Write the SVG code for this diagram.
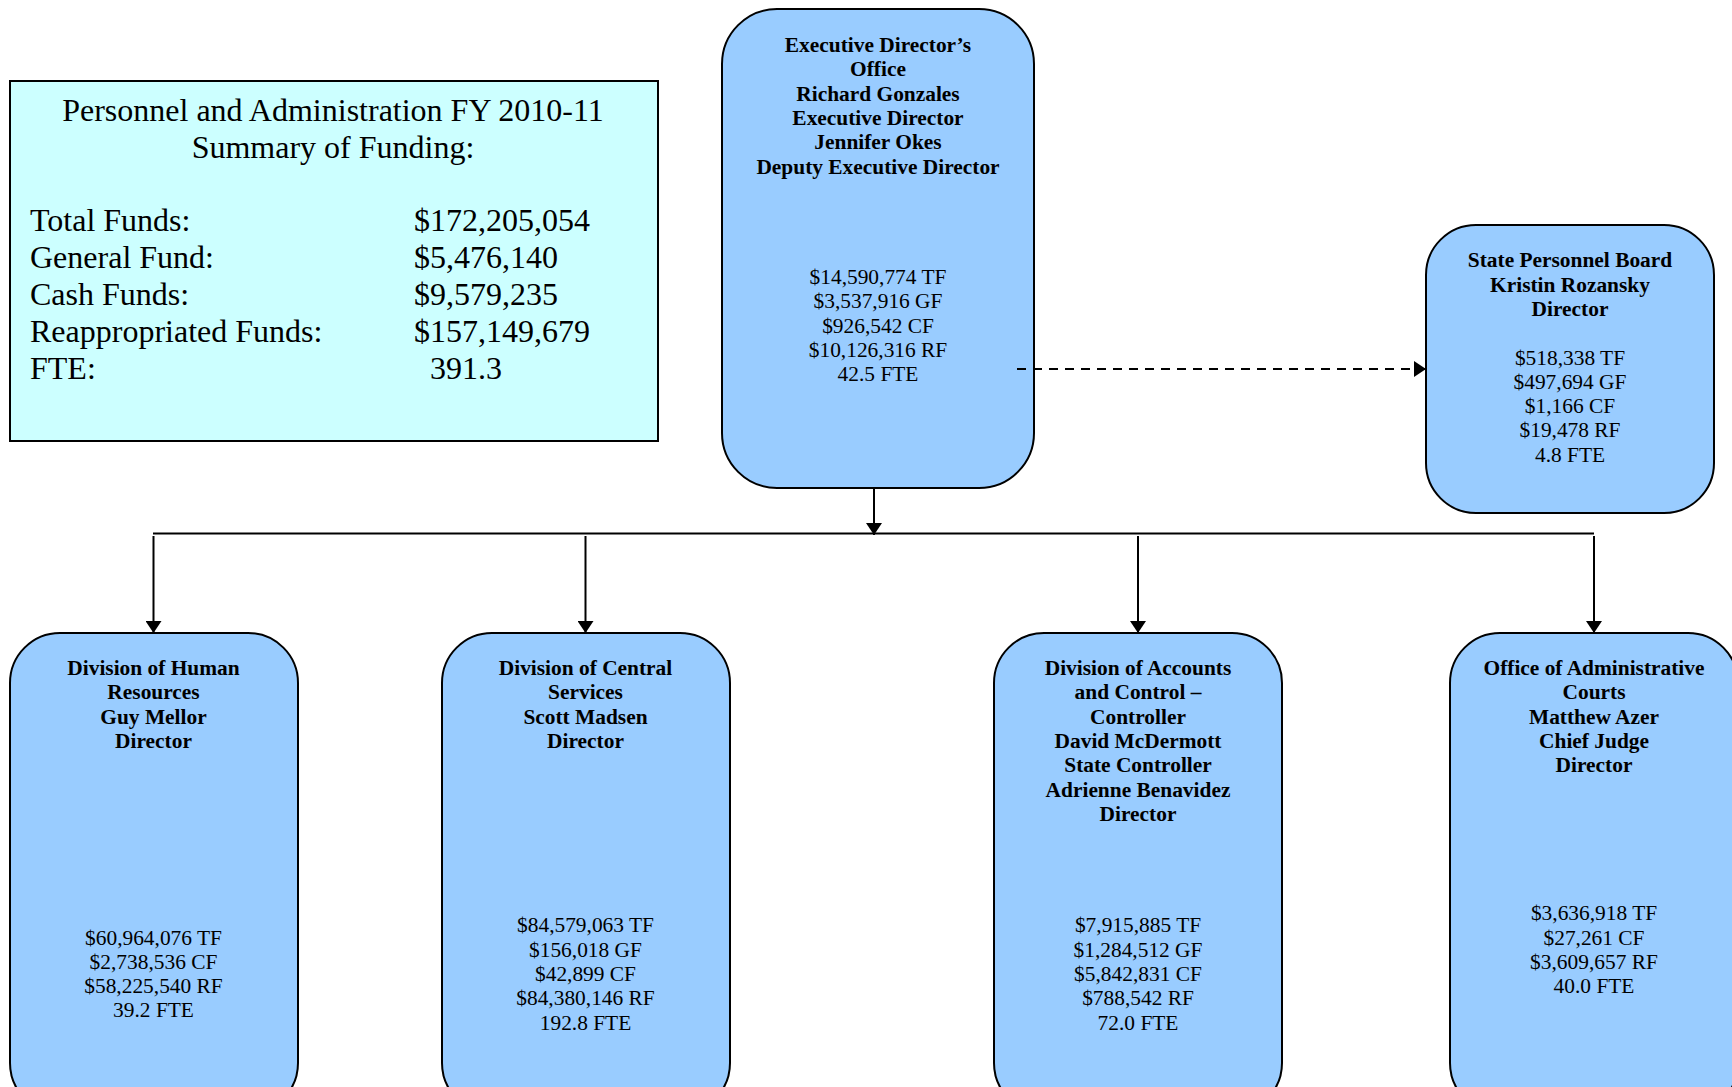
<svg xmlns="http://www.w3.org/2000/svg" width="1732" height="1087" viewBox="0 0 1732 1087">
<defs>
<marker id="ahs" viewBox="0 0 12 16" refX="12" refY="8" markerWidth="12" markerHeight="16" markerUnits="userSpaceOnUse" orient="auto">
<path d="M0,0 L12,8 L0,16 Z" fill="#000"/>
</marker>
</defs>
<style>
.box{fill:#99CCFF;stroke:#000;stroke-width:2}
.sum{fill:#CCFFFF;stroke:#000;stroke-width:2}
.b{font-family:"Liberation Serif","Times New Roman",serif;font-weight:bold;font-size:21.4px;text-anchor:middle;fill:#000}
.r{font-family:"Liberation Serif","Times New Roman",serif;font-size:21.4px;text-anchor:middle;fill:#000}
.s{font-family:"Liberation Serif","Times New Roman",serif;font-size:32px;fill:#000}
.line{stroke:#000;stroke-width:2;fill:none}
</style>
<g id="summary">
<rect class="sum" x="10" y="81" width="648" height="360"/>
<text class="s" x="333" y="121" text-anchor="middle">Personnel and Administration FY 2010-11</text>
<text class="s" x="333" y="158" text-anchor="middle">Summary of Funding:</text>
<text class="s" x="30" y="231">Total Funds:</text>
<text class="s" x="30" y="268">General Fund:</text>
<text class="s" x="30" y="305">Cash Funds:</text>
<text class="s" x="30" y="342">Reappropriated Funds:</text>
<text class="s" x="30" y="379">FTE:</text>
<text class="s" x="414" y="231">$172,205,054</text>
<text class="s" x="414" y="268">$5,476,140</text>
<text class="s" x="414" y="305">$9,579,235</text>
<text class="s" x="414" y="342">$157,149,679</text>
<text class="s" x="430" y="379">391.3</text>
</g>
<g id="exec">
<rect class="box" x="722" y="9" width="312" height="479" rx="55" ry="55"/>
<text class="b" x="878" y="52">Executive Director’s</text>
<text class="b" x="878" y="76">Office</text>
<text class="b" x="878" y="100.5">Richard Gonzales</text>
<text class="b" x="878" y="125">Executive Director</text>
<text class="b" x="878" y="149">Jennifer Okes</text>
<text class="b" x="878" y="173.5">Deputy Executive Director</text>
<text class="r" x="878" y="284">$14,590,774 TF</text>
<text class="r" x="878" y="308">$3,537,916 GF</text>
<text class="r" x="878" y="332.5">$926,542 CF</text>
<text class="r" x="878" y="357">$10,126,316 RF</text>
<text class="r" x="878" y="381">42.5 FTE</text>
</g>
<g id="spb">
<rect class="box" x="1426" y="225" width="288" height="288" rx="50" ry="50"/>
<text class="b" x="1570" y="267">State Personnel Board</text>
<text class="b" x="1570" y="291.5">Kristin Rozansky</text>
<text class="b" x="1570" y="316">Director</text>
<text class="r" x="1570" y="364.5">$518,338 TF</text>
<text class="r" x="1570" y="389">$497,694 GF</text>
<text class="r" x="1570" y="413">$1,166 CF</text>
<text class="r" x="1570" y="437">$19,478 RF</text>
<text class="r" x="1570" y="462">4.8 FTE</text>
</g>
<g id="hr">
<rect class="box" x="10" y="633" width="288" height="480" rx="50" ry="50"/>
<text class="b" x="153.5" y="675">Division of Human</text>
<text class="b" x="153.5" y="699">Resources</text>
<text class="b" x="153.5" y="723.5">Guy Mellor</text>
<text class="b" x="153.5" y="748">Director</text>
<text class="r" x="153.5" y="944.5">$60,964,076 TF</text>
<text class="r" x="153.5" y="969">$2,738,536 CF</text>
<text class="r" x="153.5" y="993">$58,225,540 RF</text>
<text class="r" x="153.5" y="1017">39.2 FTE</text>
</g>
<g id="cs">
<rect class="box" x="442" y="633" width="288" height="480" rx="50" ry="50"/>
<text class="b" x="585.5" y="675">Division of Central</text>
<text class="b" x="585.5" y="699">Services</text>
<text class="b" x="585.5" y="723.5">Scott Madsen</text>
<text class="b" x="585.5" y="748">Director</text>
<text class="r" x="585.5" y="932">$84,579,063 TF</text>
<text class="r" x="585.5" y="956.5">$156,018 GF</text>
<text class="r" x="585.5" y="981">$42,899 CF</text>
<text class="r" x="585.5" y="1005">$84,380,146 RF</text>
<text class="r" x="585.5" y="1029.5">192.8 FTE</text>
</g>
<g id="ac">
<rect class="box" x="994" y="633" width="288" height="480" rx="50" ry="50"/>
<text class="b" x="1138" y="675">Division of Accounts</text>
<text class="b" x="1138" y="699">and Control –</text>
<text class="b" x="1138" y="723.5">Controller</text>
<text class="b" x="1138" y="748">David McDermott</text>
<text class="b" x="1138" y="772">State Controller</text>
<text class="b" x="1138" y="796.5">Adrienne Benavidez</text>
<text class="b" x="1138" y="821">Director</text>
<text class="r" x="1138" y="932">$7,915,885 TF</text>
<text class="r" x="1138" y="956.5">$1,284,512 GF</text>
<text class="r" x="1138" y="981">$5,842,831 CF</text>
<text class="r" x="1138" y="1005">$788,542 RF</text>
<text class="r" x="1138" y="1029.5">72.0 FTE</text>
</g>
<g id="oac">
<rect class="box" x="1450" y="633" width="288" height="480" rx="50" ry="50"/>
<text class="b" x="1594" y="675">Office of Administrative</text>
<text class="b" x="1594" y="699">Courts</text>
<text class="b" x="1594" y="723.5">Matthew Azer</text>
<text class="b" x="1594" y="748">Chief Judge</text>
<text class="b" x="1594" y="772">Director</text>
<text class="r" x="1594" y="920">$3,636,918 TF</text>
<text class="r" x="1594" y="944.5">$27,261 CF</text>
<text class="r" x="1594" y="969">$3,609,657 RF</text>
<text class="r" x="1594" y="993">40.0 FTE</text>
</g>
<g id="connectors">
<line class="line" x1="874" y1="488" x2="874" y2="535" marker-end="url(#ahs)"/>
<line class="line" x1="153" y1="533.5" x2="1594" y2="533.5"/>
<line class="line" x1="153.5" y1="536" x2="153.5" y2="633" marker-end="url(#ahs)"/>
<line class="line" x1="585.5" y1="536" x2="585.5" y2="633" marker-end="url(#ahs)"/>
<line class="line" x1="1138" y1="536" x2="1138" y2="633" marker-end="url(#ahs)"/>
<line class="line" x1="1594" y1="536" x2="1594" y2="633" marker-end="url(#ahs)"/>
<line class="line" x1="1017" y1="369" x2="1426" y2="369" stroke-width="2.5" stroke-dasharray="9,7" marker-end="url(#ahs)"/>
</g>
</svg>
